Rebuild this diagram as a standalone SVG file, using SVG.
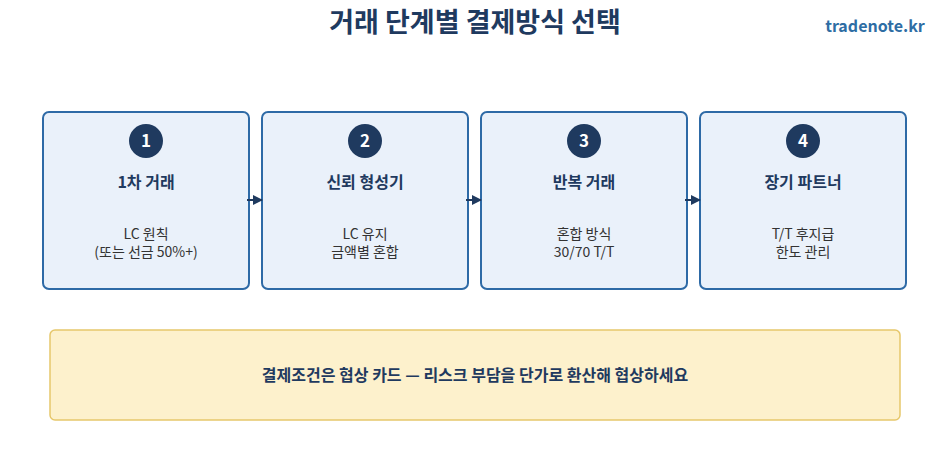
<svg xmlns="http://www.w3.org/2000/svg" width="950" height="451" viewBox="0 0 950 451">
<defs>
<style>
text{font-family:"Noto Sans CJK KR","Noto Sans",sans-serif;text-anchor:middle}
.box{fill:#eaf1fa;stroke:#2e6aa6;stroke-width:2}
.num{fill:#1f3a5f}
.n{fill:#fff;font-size:17px;font-weight:700}
.t{fill:#1f3a5f;font-size:16px;font-weight:700}
.b{fill:#333;font-size:14px}
.c{stroke:#1f3a5f;stroke-width:2;fill:none;marker-end:url(#a)}
</style>
<marker id="a" markerWidth="5" markerHeight="5" refX="4.5" refY="2.5" orient="auto" markerUnits="strokeWidth"><path d="M0,0 L5,2.5 L0,5 z" fill="#1f3a5f"/></marker>
</defs>
<rect width="950" height="451" fill="#fff"/>
<text x="475" y="32" style="font-size:27px;font-weight:700;fill:#1f3a5f">거래 단계별 결제방식 선택</text>
<text x="875" y="32" style="font-size:16px;font-weight:700;fill:#2e6da4">tradenote.kr</text>
<g id="n1"><rect class="box" x="43" y="112" width="206" height="177" rx="6"/><circle class="num" cx="146" cy="141" r="17"/><text class="n" x="146" y="147">1</text><text class="t" x="146" y="188">1차 거래</text><text class="b" x="146" y="239">LC 원칙</text><text class="b" x="146" y="257">(또는 선금 50%+)</text></g>
<g id="n2"><rect class="box" x="262" y="112" width="206" height="177" rx="6"/><circle class="num" cx="365" cy="141" r="17"/><text class="n" x="365" y="147">2</text><text class="t" x="365" y="188">신뢰 형성기</text><text class="b" x="365" y="239">LC 유지</text><text class="b" x="365" y="257">금액별 혼합</text></g>
<g id="n3"><rect class="box" x="481" y="112" width="206" height="177" rx="6"/><circle class="num" cx="584" cy="141" r="17"/><text class="n" x="584" y="147">3</text><text class="t" x="584" y="188">반복 거래</text><text class="b" x="584" y="239">혼합 방식</text><text class="b" x="584" y="257">30/70 T/T</text></g>
<g id="n4"><rect class="box" x="700" y="112" width="206" height="177" rx="6"/><circle class="num" cx="803" cy="141" r="17"/><text class="n" x="803" y="147">4</text><text class="t" x="803" y="188">장기 파트너</text><text class="b" x="803" y="239">T/T 후지급</text><text class="b" x="803" y="257">한도 관리</text></g>
<g id="connectors"><line class="c" x1="247" y1="200" x2="262" y2="200"/><line class="c" x1="466" y1="200" x2="481" y2="200"/><line class="c" x1="685" y1="200" x2="700" y2="200"/></g>
<g id="note"><rect x="50" y="330" width="850" height="90" rx="5" fill="#fdf1cc" stroke="#e6c76b" stroke-width="1.5"/><text class="t" x="475" y="381">결제조건은 협상 카드 — 리스크 부담을 단가로 환산해 협상하세요</text></g>
</svg>
